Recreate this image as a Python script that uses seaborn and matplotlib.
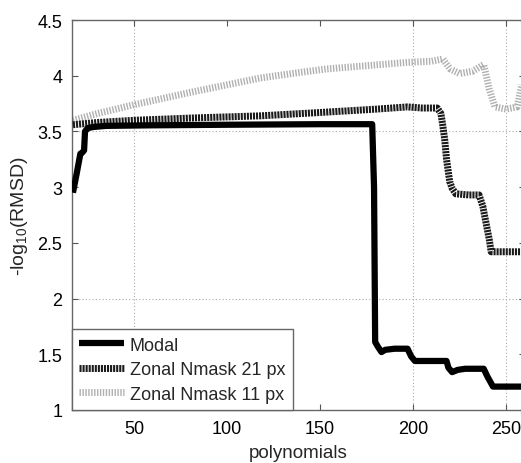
import matplotlib
matplotlib.use("Agg")
import matplotlib.pyplot as plt
import seaborn as sns
import pandas as pd

# ---- data ----
modal_x = [17, 19, 21, 22, 23, 23.5, 25, 28, 35, 60, 100, 150, 178, 179, 179.6,
           181, 183, 185, 190, 197, 199, 201, 218, 219, 221, 224, 228, 238, 240,
           242, 243, 260]
modal_y = [2.95, 3.12, 3.3, 3.31, 3.33, 3.5, 3.53, 3.54, 3.55, 3.555, 3.56, 3.565,
           3.565, 3.0, 1.61, 1.57, 1.52, 1.54, 1.55, 1.55, 1.48, 1.44, 1.44, 1.38,
           1.34, 1.36, 1.37, 1.37, 1.30, 1.24, 1.21, 1.21]

z21_x = [17, 30, 50, 80, 118, 150, 180, 197, 205, 213, 215, 216, 217, 218, 219.7,
         221, 223, 230, 235.5, 237.5, 239, 241, 242, 250, 260]
z21_y = [3.56, 3.58, 3.6, 3.62, 3.64, 3.67, 3.7, 3.72, 3.71, 3.71, 3.66, 3.55, 3.43,
         3.25, 3.05, 2.99, 2.94, 2.93, 2.93, 2.83, 2.7, 2.53, 2.42, 2.42, 2.42]

z11_x = [17, 30, 50, 80, 118, 135, 153, 175, 197, 210, 216, 220, 225, 232, 236, 238,
         241, 244, 250, 256, 258, 260]
z11_y = [3.6, 3.66, 3.74, 3.85, 3.98, 4.02, 4.06, 4.09, 4.12, 4.13, 4.15, 4.06, 4.02,
         4.04, 4.08, 4.10, 3.88, 3.72, 3.70, 3.72, 3.88, 4.0]

labels = ["Modal", "Zonal Nmask 21 px", "Zonal Nmask 11 px"]
x_ticks = [50, 100, 150, 200, 250]
y_ticks = [1, 1.5, 2, 2.5, 3, 3.5, 4, 4.5]
y_ticklabels = ["1", "1.5", "2", "2.5", "3", "3.5", "4", "4.5"]
grid_x = [50, 200, 250]
grid_y = [2, 3.5]

sns.set_theme(style="white")
plt.rcParams["font.family"] = ["Liberation Sans", "DejaVu Sans"]
plt.rcParams["mathtext.default"] = "regular"

fig = plt.figure(figsize=(5.21, 4.64), dpi=100)
ax = fig.add_axes([72 / 521, 53 / 464, 452.6 / 521, 390 / 464])

for gx in grid_x:
    ax.axvline(gx, color="#aaaaaa", lw=0.8, ls=(0, (1, 2)), zorder=0)
for gy in grid_y:
    ax.axhline(gy, color="#aaaaaa", lw=0.8, ls=(0, (1, 2)), zorder=0)

df_m = pd.DataFrame({"x": modal_x, "y": modal_y})
df_21 = pd.DataFrame({"x": z21_x, "y": z21_y})
df_11 = pd.DataFrame({"x": z11_x, "y": z11_y})

sns.lineplot(data=df_11, x="x", y="y", ax=ax, sort=False, estimator=None,
             color="#b0b0b0", lw=5, ls=(0, (0.2, 0.22)), label=labels[2], zorder=2)
sns.lineplot(data=df_21, x="x", y="y", ax=ax, sort=False, estimator=None,
             color="#1a1a1a", lw=5, ls=(0, (0.3, 0.14)), label=labels[1], zorder=3)
sns.lineplot(data=df_m, x="x", y="y", ax=ax, sort=False, estimator=None,
             color="black", lw=4.5, solid_capstyle="butt", label=labels[0], zorder=4)

ax.set_xlim(16.5, 260)
ax.set_ylim(1, 4.5)
ax.set_xticks(x_ticks)
ax.set_yticks(y_ticks)
ax.set_yticklabels(y_ticklabels)
ax.tick_params(direction="in", length=4, width=0.8, color="#555555",
               labelsize=13, top=True, right=True, bottom=True, left=True,
               labelcolor="black", pad=7)
for s in ax.spines.values():
    s.set_color("#666666")
    s.set_linewidth(1.0)
ax.set_xlabel("polynomials", fontsize=13.5, labelpad=5)
ax.set_ylabel("-log$_{10}$(RMSD)", fontsize=14, labelpad=5)

h, l = ax.get_legend_handles_labels()
order = [l.index(lab) for lab in labels]
leg = ax.legend([h[i] for i in order], [l[i] for i in order], loc="lower left",
                bbox_to_anchor=(0, 0), borderaxespad=0, fancybox=False,
                edgecolor="#666666", framealpha=1, fontsize=13,
                handlelength=2.5, handletextpad=0.3, labelspacing=0.42,
                borderpad=0.4)
leg.get_frame().set_linewidth(1.0)

fig.savefig("out.png", dpi=100)
